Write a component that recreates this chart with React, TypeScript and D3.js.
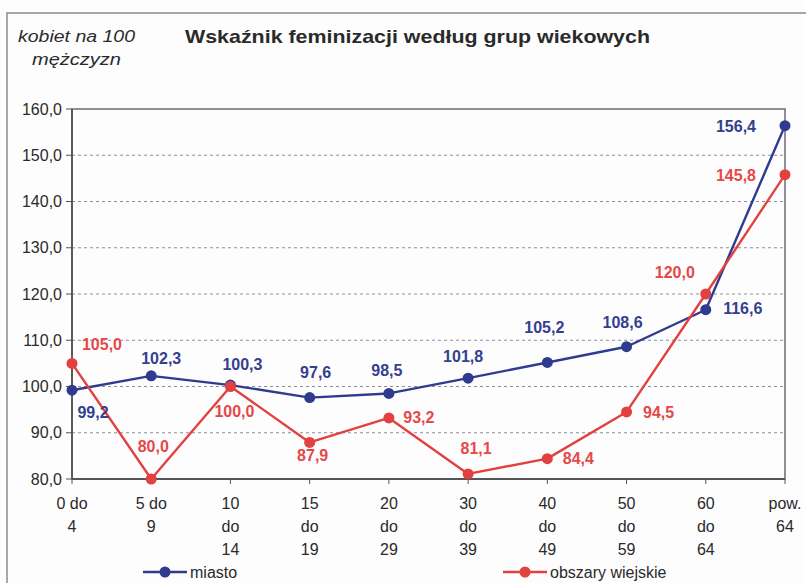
import React from "react";
import * as d3 from "d3";

const categories: string[][] = [
  ["0 do", "4"],
  ["5 do", "9"],
  ["10", "do", "14"],
  ["15", "do", "19"],
  ["20", "do", "29"],
  ["30", "do", "39"],
  ["40", "do", "49"],
  ["50", "do", "59"],
  ["60", "do", "64"],
  ["pow.", "64"],
];
const miasto: number[] = [99.2, 102.3, 100.3, 97.6, 98.5, 101.8, 105.2, 108.6, 116.6, 156.4];
const wies: number[] = [105.0, 80.0, 100.0, 87.9, 93.2, 81.1, 84.4, 94.5, 120.0, 145.8];
const yTicks: number[] = [80, 90, 100, 110, 120, 130, 140, 150, 160];
const seriesNames = ["miasto", "obszary wiejskie"];
const titleText = "Wskaźnik feminizacji według grup wiekowych";
const yLabelLines = ["kobiet na 100", "mężczyzn"];

// label offsets (style only)
const miastoOff: [number, number][] = [
  [21, 22], [10, -17], [12, -21], [6, -25], [-2, -23], [-5, -22], [-3, -35], [-4, -24], [37, -1], [-49, 1],
];
const wiesOff: [number, number][] = [
  [30, -19], [2, -33], [4, 25], [3, 13], [30, -1], [8, -26], [31, 0], [32, 0], [-31, -22], [-49, 1],
];

const BLUE = "#2f3b8e";
const BLUE_T = "#34408f";
const RED = "#e2413f";
const RED_T = "#e64848";
const FONT = "'Liberation Sans', Arial, sans-serif";

const fmt = (v: number) => v.toFixed(1).replace(".", ",");

export default function App() {
  const left = 72, right = 785, top = 109, bottom = 479;
  const keys = categories.map((_, i) => String(i));
  const x = d3.scalePoint<string>().domain(keys).range([left, right]).padding(0);
  const y = d3.scaleLinear().domain([80, 160]).range([bottom, top]);
  const line = d3
    .line<number>()
    .x((_, i) => x(String(i)) as number)
    .y((d) => y(d));

  const series = [
    { name: seriesNames[0], values: miasto, color: BLUE, tcolor: BLUE_T, off: miastoOff },
    { name: seriesNames[1], values: wies, color: RED, tcolor: RED_T, off: wiesOff },
  ];
  // draw rural first so urban (blue) lies on top where they cross? reference shows red over blue at 60-64
  const drawOrder = [series[0], series[1]];

  return (
    <svg
      width={806}
      height={583}
      style={{ position: "absolute", left: 0, top: 0, background: "#fdfdfe" }}
      fontFamily={FONT}
    >
      <rect x={0} y={0} width={806} height={583} fill="#fdfdfe" />
      {/* outer frame */}
      <rect x={7} y={13} width={830} height={600} fill="none" stroke="#8a8a92" strokeWidth={1.5} />

      {/* titles */}
      <text x={18} y={42} fontSize={16} fontStyle="italic" fill="#2a2a2a" textLength={117} lengthAdjust="spacingAndGlyphs">
        {yLabelLines[0]}
      </text>
      <text x={32} y={65} fontSize={16} fontStyle="italic" fill="#2a2a2a" textLength={89} lengthAdjust="spacingAndGlyphs">
        {yLabelLines[1]}
      </text>
      <text x={185} y={43} fontSize={19} fontWeight="bold" fill="#2a2a2a" textLength={465} lengthAdjust="spacingAndGlyphs">
        {titleText}
      </text>

      {/* gridlines */}
      {yTicks
        .filter((t) => t > 80 && t < 160)
        .map((t) => (
          <line key={"g" + t} x1={left} x2={right} y1={y(t)} y2={y(t)} stroke="#8d8d98" strokeWidth={1} strokeDasharray="3,3" />
        ))}

      {/* frame */}
      <rect x={left} y={top} width={right - left} height={bottom - top} fill="none" stroke="#6a6a72" strokeWidth={1.5} />
      <line x1={left} x2={right} y1={bottom} y2={bottom} stroke="#555" strokeWidth={1.8} />
      <line x1={left} x2={left} y1={top} y2={bottom} stroke="#555" strokeWidth={1.8} />

      {/* y ticks */}
      {yTicks.map((t) => (
        <g key={"yt" + t}>
          <line x1={left - 6} x2={left} y1={y(t)} y2={y(t)} stroke="#555" strokeWidth={1} />
          <text x={62} y={y(t)} dy="0.35em" textAnchor="end" fontSize={16} fill="#2a2a2a">
            {fmt(t)}
          </text>
        </g>
      ))}

      {/* x ticks and labels */}
      {categories.map((lines, i) => {
        const cx = x(String(i)) as number;
        return (
          <g key={"xc" + i}>
            <line x1={cx} x2={cx} y1={bottom} y2={bottom + 5} stroke="#555" strokeWidth={1} />
            {lines.map((l, j) => (
              <text key={j} x={cx} y={509 + j * 23} textAnchor="middle" fontSize={16} fill="#2a2a2a">
                {l}
              </text>
            ))}
          </g>
        );
      })}

      {/* series */}
      {drawOrder.map((s) => (
        <g key={s.name}>
          <path d={line(s.values) || ""} fill="none" stroke={s.color} strokeWidth={2.4} strokeLinejoin="round" />
          {s.values.map((v, i) => (
            <circle key={i} cx={x(String(i)) as number} cy={y(v)} r={5.5} fill={s.color} />
          ))}
        </g>
      ))}
      {series.map((s) =>
        s.values.map((v, i) => (
          <text
            key={s.name + "l" + i}
            x={(x(String(i)) as number) + s.off[i][0]}
            y={y(v) + s.off[i][1]}
            dy="0.35em"
            textAnchor="middle"
            fontSize={16}
            fontWeight="bold"
            fill={s.tcolor}
          >
            {fmt(v)}
          </text>
        ))
      )}

      {/* legend */}
      {[
        { s: series[0], x0: 143 },
        { s: series[1], x0: 503 },
      ].map(({ s, x0 }) => (
        <g key={"lg" + s.name}>
          <line x1={x0} x2={x0 + 44} y1={572} y2={572} stroke={s.color} strokeWidth={2.4} />
          <circle cx={x0 + 22} cy={572} r={5.5} fill={s.color} />
          <text x={x0 + 47} y={572} dy="0.35em" fontSize={16} fill="#2a2a2a">
            {s.name}
          </text>
        </g>
      ))}
    </svg>
  );
}
